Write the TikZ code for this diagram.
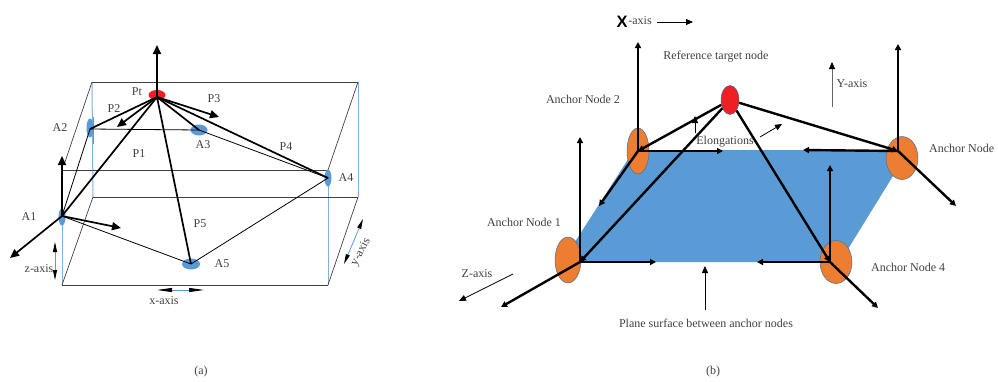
\documentclass[tikz,border=0pt]{standalone}
\usepackage{fontspec}
\setmainfont{Liberation Serif}
\newfontfamily\xsans{Liberation Sans}
\usetikzlibrary{arrows.meta,shapes.geometric}
\definecolor{txt}{HTML}{404040}
\definecolor{pblue}{HTML}{5B9BD5}
\definecolor{lblue}{HTML}{7FB0E0}
\definecolor{porange}{HTML}{ED7D31}
\definecolor{pred}{HTML}{EE2024}
\definecolor{bedge}{HTML}{41719C}
\tikzset{
  x=1pt,y=-1pt,
  lab/.style={text=txt,font=\fontsize{12}{13}\selectfont,inner sep=0pt},
  blob/.style={ellipse,fill=pblue,inner sep=0pt,minimum width=#1},
  anchorpt/.style={ellipse,fill=porange,draw=bedge,line width=.5pt,inner sep=0pt},
  boxline/.style={line width=.7pt,draw=black!75},
  blueline/.style={line width=1pt,draw=lblue},
  thin line/.style={line width=.8pt,draw=black},
  thick a/.style={line width=1.7pt,draw=black},
  thick b/.style={line width=2.4pt,draw=black},
  tipa/.style={-{Triangle[length=9pt,width=8pt]}},
  tipb/.style={-{Triangle[length=6pt,width=6pt]}},
  tipc/.style={-{Triangle[length=7pt,width=6pt]}},
  axisblue/.style={line width=.8pt,draw=pblue,{Triangle[length=#1,width=4pt,black]}-{Triangle[length=#1,width=4pt,black]}},
}
\begin{document}
\begin{tikzpicture}
\useasboundingbox (0,0) rectangle (998,381);
% ---------- panel (a) ----------
\coordinate (tl) at (92,82); \coordinate (tr) at (358,82);
\coordinate (bl) at (93,197); \coordinate (br) at (358,197);
\coordinate (fl) at (62,170); \coordinate (fr) at (328,170);
\coordinate (gl) at (62,285); \coordinate (gr) at (328,285);
\draw[blueline] (tl) -- (bl);
\draw[blueline] (tr) -- (br);
\draw[blueline] (gl) -- (62,216);
\draw[blueline] (gr) -- (328,178);
\draw[line width=1.1pt,draw=pblue] (93.5,117) -- (93.5,144);
\draw[boxline] (tl) -- (tr);
\draw[boxline] (fl) -- (fr);
\draw[boxline] (bl) -- (br);
\draw[boxline] (gl) -- (gr);
\draw[boxline] (gl) -- (bl);
\draw[boxline] (gr) -- (br);
\draw[boxline] (tr) -- (fr);
\draw[boxline] (tl) -- (65,162);
\node[blob=7pt,minimum height=17pt] (A1) at (62,217) {};
\node[blob=7pt,minimum height=19pt] (A2) at (90,128) {};
\node[blob=17pt,minimum height=11pt] (A3) at (199,130) {};
\node[blob=7pt,minimum height=17pt] (A4) at (328,178) {};
\node[blob=18pt,minimum height=11pt] (A5) at (191,264) {};
\node[ellipse,fill=pred,inner sep=0pt,minimum width=17pt,minimum height=10pt] (Pt) at (157,95) {};
\coordinate (P) at (157,97);
\coordinate (a1) at (62,216); \coordinate (a2) at (90,129);
\coordinate (a3) at (199,130); \coordinate (a4) at (328,178); \coordinate (a5) at (191,264);
\draw[thin line] (a2) -- (a3) -- (a4) -- (a5) -- (a1) -- (a2);
\draw[thick a] (P) -- (a1);
\draw[thick a] (P) -- (a2);
\draw[thick a] (P) -- (a3);
\draw[thick a] (P) -- (a4);
\draw[thick a] (P) -- (a5);
\coordinate (pu) at (157,45); \coordinate (p2) at (117,127); \coordinate (p3) at (219,117);
\coordinate (a1u) at (62,156); \coordinate (a1r) at (121,228); \coordinate (a1l) at (10,258);
\draw[thick a,tipa] (P) -- (pu);
\draw[thick a,tipa] (P) -- (p2);
\draw[thick a,tipa] (P) -- (p3);
\draw[thick a,tipa] (a1) -- (a1u);
\draw[thick a,tipa] (a1) -- (a1r);
\draw[thick a,tipa] (a1) -- (a1l);
\coordinate (z1) at (55,242); \coordinate (z2) at (55,280);
\coordinate (x1) at (157,290); \coordinate (x2) at (204,290);
\coordinate (y1) at (363,219); \coordinate (y2) at (344,264);
\draw[axisblue=10pt] (z1) -- (z2);
\draw[axisblue=15pt] (x1) -- (x2);
\draw[axisblue=10pt] (y1) -- (y2);
\node[lab] (tA1) at (29,217) {A1};
\node[lab] (tA2) at (60,128) {A2};
\node[lab] (tA3) at (203,145) {A3};
\node[lab] (tA4) at (346,178) {A4};
\node[lab] (tA5) at (222,264) {A5};
\node[lab] (tPt) at (137,92) {Pt};
\node[lab] (tP1) at (139,154) {P1};
\node[lab] (tP2) at (114,109) {P2};
\node[lab] (tP3) at (214,99) {P3};
\node[lab] (tP4) at (286,147) {P4};
\node[lab] (tP5) at (200,224) {P5};
\node[lab] (tz) at (39,269) {z-axis};
\node[lab] (tx) at (164,301) {x-axis};
\node[lab,rotate=62] (ty) at (361,252) {y-axis};
\node[lab] (ta) at (201,372) {(a)};
% ---------- panel (b) ----------
\fill[pblue] (634,150) -- (909,150) -- (840,262) -- (562,262) -- cycle;
\node[anchorpt,minimum width=26pt,minimum height=46pt] (N1) at (568,260) {};
\node[anchorpt,minimum width=22pt,minimum height=46pt] (N2) at (638,151) {};
\node[anchorpt,minimum width=32pt,minimum height=43pt] (N3) at (902,158) {};
\node[anchorpt,minimum width=32pt,minimum height=43pt] (N4) at (836,262) {};
\node[ellipse,fill=pred,draw=bedge,line width=.5pt,inner sep=0pt,minimum width=18pt,minimum height=29pt] (T) at (730,100) {};
\coordinate (o1) at (580,262); \coordinate (o2) at (638,151);
\coordinate (o3) at (898,151); \coordinate (o4) at (830,262);
\draw[thick b,tipb] (T) -- (o2);
\draw[thick b,tipb] (T) -- (o1);
\draw[thick b,tipb] (T) -- (o3);
\draw[thick b,tipb] (T) -- (o4);
\coordinate (o1u) at (580,137); \coordinate (o1r) at (656,262); \coordinate (o1l) at (501,307);
\coordinate (o2u) at (638,42); \coordinate (o2r) at (723,151); \coordinate (o2l) at (599,206);
\coordinate (o3u) at (898,44); \coordinate (o3l) at (803,150); \coordinate (o3r) at (956,206);
\coordinate (o4u) at (830,165); \coordinate (o4l) at (757,262); \coordinate (o4r) at (878,308);
\draw[thick b,tipb] (o1) -- (o1u);
\draw[thick b,tipb] (o1) -- (o1r);
\draw[thick b,tipb] (o1) -- (o1l);
\draw[thick b,tipb] (o2) -- (o2u);
\draw[thick b,tipb] (o2) -- (o2r);
\draw[thick b,tipb] (o2) -- (o2l);
\draw[thick b,tipb] (o3) -- (o3u);
\draw[thick b,tipb] (o3) -- (o3l);
\draw[thick b,tipb] (o3) -- (o3r);
\draw[thick b,tipb] (o4) -- (o4u);
\draw[thick b,tipb] (o4) -- (o4l);
\draw[thick b,tipb] (o4) -- (o4r);
\coordinate (e1a) at (695,133); \coordinate (e1b) at (695,116);
\coordinate (e2a) at (760,137); \coordinate (e2b) at (782,124);
\coordinate (ya) at (832,107); \coordinate (yb) at (832,62);
\coordinate (xa) at (657,22); \coordinate (xb) at (693,22);
\coordinate (za) at (513,274); \coordinate (zb) at (459,301);
\coordinate (pa) at (705,310); \coordinate (pb) at (705,266);
\draw[thin line,tipc] (e1a) -- (e1b);
\draw[thin line,tipc] (e2a) -- (e2b);
\draw[line width=.8pt,draw=black!60,{Triangle[length=7pt,width=6pt,black]}-] (yb) -- (ya);
\draw[thin line,tipc] (xa) -- (xb);
\draw[thin line,tipc] (za) -- (zb);
\draw[thin line,tipc] (pa) -- (pb);
\node[inner sep=0pt,font=\xsans\bfseries\fontsize{16.5}{17}\selectfont] (tX) at (622,22) {X};
\node[lab] (tXa) at (640,21) {-axis};
\node[lab] (tR) at (716,57) {Reference target node};
\node[lab] (tN2) at (583,99) {Anchor Node 2};
\node[lab] (tE) at (725,142) {Elongations};
\node[lab] (tY) at (852,84) {Y-axis};
\node[lab,anchor=west] (tN3) at (929,148) {Anchor Node};
\node[lab] (tN1) at (524,222) {Anchor Node 1};
\node[lab] (tZ) at (477,274) {Z-axis};
\node[lab,anchor=west] (tN4) at (871,267) {Anchor Node 4};
\node[lab] (tS) at (706,323) {Plane surface between anchor nodes};
\node[lab] (tb) at (713,372) {(b)};
\end{tikzpicture}
\end{document}
